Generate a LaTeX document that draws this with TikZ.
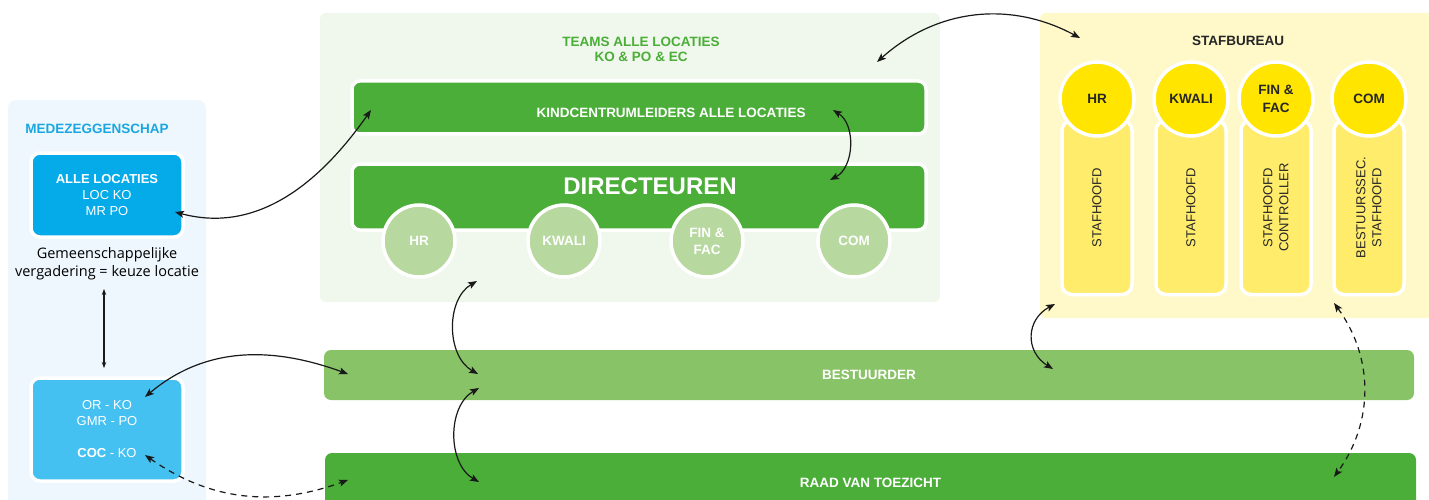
\documentclass[tikz,border=0pt]{standalone}
\usepackage{fontspec}
\setmainfont{Liberation Sans}
\newfontfamily\gemfont{Open Sans}
\usetikzlibrary{arrows.meta}
\tikzset{>={Stealth[length=9pt,width=7pt,inset=2pt]}}

\definecolor{mzback}{HTML}{EEF7FD}
\definecolor{mzblue}{HTML}{05AAE9}
\definecolor{mzlight}{HTML}{45C1F1}
\definecolor{mztitle}{HTML}{1AA7E1}
\definecolor{tmback}{HTML}{F0F7EC}
\definecolor{tmgreen}{HTML}{4BAE38}
\definecolor{tmcircle}{HTML}{B7D89F}
\definecolor{bsgreen}{HTML}{89C367}
\definecolor{sfback}{HTML}{FFF8C9}
\definecolor{sfbar}{HTML}{FFEC6B}
\definecolor{sfcircle}{HTML}{FFE500}
\definecolor{sftext}{HTML}{262626}

\newcommand{\orgheadfont}{\fontsize{13.5}{15}\selectfont}

\tikzset{
  mzbox/.style={rectangle, fill=#1, draw=white, line width=3.5pt, rounded corners=9pt,
    text=white, align=center, inner sep=0pt, font=\fontsize{13}{16}\selectfont},
  greenbox/.style={rectangle, fill=tmgreen, draw=white, line width=3.5pt, rounded corners=8pt, inner sep=0pt},
  greenbar/.style={rectangle, fill=#1, rounded corners=7pt, inner sep=0pt, text=white, font=\orgheadfont\bfseries},
  teamring/.style={circle, fill=tmcircle, draw=white, line width=3.5pt, minimum size=72pt, inner sep=0pt,
    align=center, text=white, font=\bfseries\fontsize{13.5}{17}\selectfont},
  stafring/.style={circle, fill=sfcircle, draw=white, line width=3.5pt, minimum size=74pt, inner sep=0pt,
    align=center, text=sftext, font=\bfseries\fontsize{13.5}{17}\selectfont},
  stafpillar/.style={rectangle, rotate=90, fill=sfbar, draw=white, line width=3.5pt, rounded corners=10pt,
    minimum width=174pt, minimum height=70pt, inner sep=0pt, align=center, text=sftext,
    font=\fontsize{13}{16}\selectfont},
  link/.style={<->, line width=1.2pt, black!90},
  dashlink/.style={link, dash pattern=on 6pt off 5pt},
}

\begin{document}
\begin{tikzpicture}[x=1pt,y=1pt]
  \useasboundingbox (0,0) rectangle (1429,-500);
  \clip (0,0) rectangle (1429,-500);

  %% panels
  \fill[mzback, rounded corners=8pt] (8,-100) rectangle (206,-520);
  \fill[tmback, rounded corners=6pt] (320,-13) rectangle (940,-302);
  \fill[sfback, rounded corners=6pt] (1040,-13) rectangle (1445,-318);

  %% medezeggenschap
  \node[font=\orgheadfont\bfseries, text=mztitle] (mztitle) at (97,-129) {MEDEZEGGENSCHAP};
  \node[mzbox=mzblue, minimum width=152pt, minimum height=84pt] (alle) at (107,-195)
    {\textbf{ALLE LOCATIES}\\LOC KO\\MR PO};
  \node[align=center, font=\gemfont\fontsize{14.5}{18}\selectfont] (gem) at (107,-264)
    {Gemeenschappelijke\\vergadering = keuze locatie};
  \node[mzbox=mzlight, minimum width=152pt, minimum height=103pt] (orko) at (107,-429.5)
    {OR - KO\\GMR - PO\\[16pt]\textbf{COC} - KO};

  %% teams
  \node[font=\orgheadfont\bfseries, text=tmgreen, align=center] (teams) at (641,-49)
    {TEAMS ALLE LOCATIES\\KO \& PO \& EC};
  \node[greenbox, minimum width=574pt, minimum height=53pt] (kcl) at (639,-107.5) {};
  \node[font=\orgheadfont\bfseries, text=white] (kcltext) at (671,-113) {KINDCENTRUMLEIDERS ALLE LOCATIES};
  \node[greenbox, minimum width=574pt, minimum height=66pt] (dir) at (639,-197) {};
  \node[font=\fontsize{24}{28}\selectfont\bfseries, text=white] (dirtext) at (650,-186) {DIRECTEUREN};
  \foreach \x/\name/\txt in {419/hr/HR, 564/kwali/KWALI, 707/fin/{FIN \&\\FAC}, 854/com/COM}
    \node[teamring] (d\name) at (\x,-241) {\txt};

  %% stafbureau
  \node[font=\orgheadfont\bfseries, text=sftext] (staf) at (1238,-41) {STAFBUREAU};
  \foreach \x/\name/\txt in {1097/hr/STAFHOOFD, 1191/kwali/STAFHOOFD,
      1276/fin/{STAFHOOFD\\CONTROLLER}, 1369/com/{BESTUURSSEC.\\STAFHOOFD}}
    \node[stafpillar] (p\name) at (\x,-207.5) {\txt};
  \foreach \x/\name/\txt in {1097/hr/HR, 1191/kwali/KWALI, 1276/fin/{FIN \&\\[1pt]FAC}, 1369/com/COM}
    \node[stafring] (s\name) at (\x,-99) {\txt};

  %% bottom bars
  \node[greenbar=bsgreen, minimum width=1090pt, minimum height=50pt] (best) at (869,-375) {BESTUURDER};
  \node[greenbar=tmgreen, minimum width=1091pt, minimum height=60pt] (raad) at (870.5,-483) {RAAD VAN TOEZICHT};

  %% arrow ends
  \coordinate (a1s) at (877,-62);   \coordinate (a1e) at (1080,-38);
  \coordinate (a2s) at (175,-212);  \coordinate (a2e) at (371,-110);
  \coordinate (a3s) at (833,-110);  \coordinate (a3e) at (830,-180);
  \coordinate (a4s) at (477,-281);  \coordinate (a4e) at (478,-374);
  \coordinate (a5s) at (479,-388);  \coordinate (a5e) at (479,-482);
  \coordinate (a6s) at (145,-397);  \coordinate (a6e) at (348,-374);
  \coordinate (a7s) at (145,-455);  \coordinate (a7e) at (348,-480);
  \coordinate (a8s) at (1055,-304); \coordinate (a8e) at (1053,-369);
  \coordinate (a9s) at (1334,-303); \coordinate (a9e) at (1334,-477);
  \coordinate (a10s) at (104,-289); \coordinate (a10e) at (104,-368);

  \draw[link] (a1s) to[bend left=35] (a1e);
  \draw[link] (a2s) to[out=-15,in=235] (a2e);
  \draw[link] (a3s) to[bend left=60] (a3e);
  \draw[link] (a4s) to[bend right=60] (a4e);
  \draw[link] (a5s) to[bend right=60] (a5e);
  \draw[link] (a6s) to[out=40,in=160] (a6e);
  \draw[dashlink] (a7s) to[out=-35,in=200] (a7e);
  \draw[link] (a8s) to[bend right=60,looseness=1.3] (a8e);
  \draw[dashlink] (a9s) to[bend left=36] (a9e);
  \draw[link, >={Stealth[length=6pt,width=4.5pt]}] (a10s) -- (a10e);
\end{tikzpicture}
\end{document}
